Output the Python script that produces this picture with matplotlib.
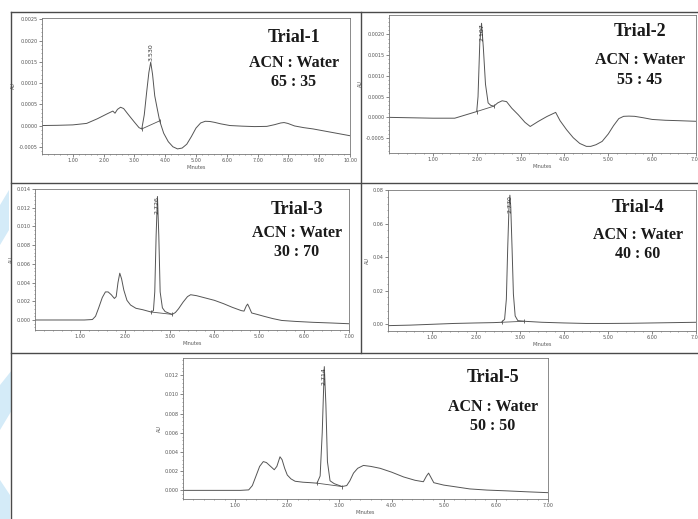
import matplotlib
matplotlib.use("Agg")
import matplotlib.pyplot as plt
from matplotlib.lines import Line2D
from matplotlib.patches import Polygon
from matplotlib.ticker import AutoMinorLocator, FormatStrFormatter

# ---- data (retention time in min, response in AU) ----
t1_x = [0, 0.5, 1.0, 1.45, 1.8, 2.1, 2.3, 2.37, 2.45, 2.55, 2.65, 2.8, 3.0, 3.15, 3.24,
        3.32, 3.40, 3.47, 3.53, 3.59, 3.66, 3.74, 3.82, 3.95, 4.1, 4.25, 4.4, 4.55, 4.7,
        4.85, 5.0, 5.15, 5.3, 5.45, 5.6, 5.8, 6.1, 6.5, 6.9, 7.3, 7.55, 7.75, 7.86, 7.98,
        8.2, 8.5, 8.8, 9.1, 9.4, 9.7, 10.0]
t1_y = [0, 0.05, 0.15, 0.5, 1.6, 2.7, 3.4, 2.9, 3.8, 4.3, 4.0, 2.6, 0.8, -0.5, -0.8,
        2.5, 8.0, 12.5, 14.9, 12.0, 7.0, 4.0, 1.1, -1.8, -3.8, -5.0, -5.5, -5.3, -4.4,
        -2.6, -0.6, 0.6, 1.0, 0.95, 0.75, 0.4, 0.0, -0.15, -0.25, -0.2, 0.2, 0.6, 0.7, 0.5,
        -0.1, -0.5, -0.8, -1.2, -1.6, -2.0, -2.4]
t1_y = [v * 1e-4 for v in t1_y]

t2_x = [0, 0.5, 1.0, 1.5, 1.75, 2.0, 2.03, 2.07, 2.11, 2.15, 2.2, 2.26, 2.32, 2.39, 2.48,
        2.58, 2.68, 2.8, 2.95, 3.1, 3.22, 3.4, 3.6, 3.8, 3.9, 4.05, 4.2, 4.35, 4.5, 4.6,
        4.72, 4.86, 5.0, 5.12, 5.24, 5.35, 5.47, 5.6, 5.8, 6.0, 6.3, 6.6, 7.0]
t2_y = [0, -0.1, -0.2, -0.2, 0.6, 1.4, 5.0, 18.0, 22.7, 17.0, 8.0, 3.5, 2.9, 2.7, 3.5,
        4.0, 3.8, 2.2, 0.6, -1.2, -2.2, -1.0, 0.2, 1.2, -0.8, -3.0, -4.9, -6.3, -7.0, -7.0,
        -6.6, -5.8, -4.0, -2.0, -0.3, 0.25, 0.3, 0.25, -0.1, -0.5, -0.7, -0.8, -0.95]
t2_y = [v * 1e-4 for v in t2_y]

t3_x = [0, 0.6, 1.1, 1.28, 1.35, 1.42, 1.5, 1.57, 1.63, 1.7, 1.77, 1.81, 1.85, 1.89, 1.93,
        1.98, 2.05, 2.13, 2.25, 2.4, 2.59, 2.64, 2.67, 2.70, 2.73, 2.76, 2.79, 2.84, 2.9,
        3.0, 3.06, 3.13, 3.2, 3.3, 3.4, 3.47, 3.6, 3.8, 4.0, 4.2, 4.4, 4.6, 4.66, 4.71,
        4.74, 4.78, 4.83, 4.95, 5.1, 5.3, 5.5, 5.8, 6.2, 6.6, 7.0]
t3_y = [0, 0, 0, 0.05, 0.4, 1.3, 2.4, 3.0, 3.0, 2.7, 2.3, 2.5, 4.0, 5.0, 4.4,
        3.2, 2.1, 1.6, 1.25, 1.1, 0.85, 1.0, 3.0, 9.0, 13.2, 9.0, 3.0, 1.3, 0.9,
        0.7, 0.6, 0.8, 1.2, 1.9, 2.5, 2.7, 2.6, 2.35, 2.1, 1.75, 1.35, 1.0, 0.95, 1.5,
        1.7, 1.3, 0.75, 0.6, 0.4, 0.15, -0.05, -0.15, -0.25, -0.32, -0.4]
t3_y = [v * 1e-3 for v in t3_y]

t4_x = [0, 0.5, 1.0, 1.5, 2.0, 2.4, 2.58, 2.65, 2.69, 2.72, 2.75, 2.77, 2.79, 2.82, 2.85,
        2.89, 2.95, 3.1, 3.5, 4.0, 4.5, 5.0, 5.5, 6.0, 6.5, 7.0]
t4_y = [-0.08, -0.05, 0.0, 0.05, 0.08, 0.1, 0.12, 0.3, 1.5, 4.5, 7.0, 7.7, 7.0, 4.5, 1.8,
        0.5, 0.22, 0.18, 0.12, 0.08, 0.05, 0.05, 0.06, 0.08, 0.1, 0.12]
t4_y = [v * 1e-2 for v in t4_y]

t5_x = [0, 0.6, 1.1, 1.26, 1.33, 1.4, 1.47, 1.54, 1.6, 1.68, 1.75, 1.8, 1.86, 1.9, 1.95,
        2.0, 2.07, 2.15, 2.3, 2.45, 2.57, 2.63, 2.67, 2.71, 2.74, 2.77, 2.82, 2.9, 3.0,
        3.05, 3.14, 3.2, 3.27, 3.35, 3.46, 3.6, 3.78, 4.0, 4.23, 4.45, 4.61, 4.67, 4.71,
        4.75, 4.81, 5.0, 5.19, 5.5, 5.83, 6.2, 6.6, 7.0]
t5_y = [0, 0, 0, 0.05, 0.5, 1.5, 2.5, 3.0, 2.9, 2.5, 2.15, 2.5, 3.5, 3.2, 2.3,
        1.6, 1.2, 0.95, 0.85, 0.8, 0.75, 1.5, 6.0, 12.9, 9.0, 3.0, 1.0, 0.7, 0.5,
        0.4, 0.5, 1.0, 1.8, 2.3, 2.6, 2.5, 2.3, 1.9, 1.4, 1.05, 0.9, 1.5, 1.8,
        1.4, 0.8, 0.55, 0.4, 0.15, 0.03, -0.05, -0.15, -0.24]
t5_y = [v * 1e-3 for v in t5_y]

# integration baseline end points (index into each trace)
base_idx = [(14, 22), (5, 13), (20, 30), (6, 17), (20, 29)]
peak_labels = ["3.530", "2.107", "2.726", "2.770", "2.714"]
titles = ["Trial-1", "Trial-2", "Trial-3", "Trial-4", "Trial-5"]
ratios = ["65 : 35", "55 : 45", "30 : 70", "40 : 60", "50 : 50"]

traces = [(t1_x, t1_y), (t2_x, t2_y), (t3_x, t3_y), (t4_x, t4_y), (t5_x, t5_y)]
x_max = [10, 7, 7, 7, 7]
y_lims = [(-0.00067, 0.00253), (-0.00086, 0.00247), (-0.00107, 0.014),
          (-0.004, 0.0801), (-0.0009, 0.0138)]
y_ticks = [[-0.0005, 0, 0.0005, 0.0010, 0.0015, 0.0020, 0.0025],
           [-0.0005, 0, 0.0005, 0.0010, 0.0015, 0.0020],
           [0, 0.002, 0.004, 0.006, 0.008, 0.010, 0.012, 0.014],
           [0, 0.02, 0.04, 0.06, 0.08],
           [0, 0.002, 0.004, 0.006, 0.008, 0.010, 0.012]]
y_fmt = ["%.4f", "%.4f", "%.3f", "%.2f", "%.3f"]

W, H = 698, 519
fig = plt.figure(figsize=(W / 100, H / 100), dpi=100)
fig.patch.set_facecolor("white")


def fx(px):
    return px / W


def fy(py):
    return 1 - py / H


# axes boxes in pixels: left, top, right, bottom
boxes = [(42, 18, 350, 154), (389, 15, 696, 153), (35, 189, 349, 330),
         (388, 190, 696, 331), (183, 358, 548, 499)]
# label block positions (pixel x centre, y of title / ACN line / ratio line)
text_pos = [(294, 37, 63, 82), (640, 32, 60, 80), (297, 210, 233, 252),
            (638, 208, 235, 254), (493, 377, 407, 426)]

line_col = "#555555"
for i, (l, t, r, b) in enumerate(boxes):
    ax = fig.add_axes([fx(l), fy(b), fx(r - l), (b - t) / H])
    xs, ys = traces[i]
    ax.plot(xs, ys, color=line_col, lw=0.7)
    i0, i1 = base_idx[i]
    ax.plot([xs[i0], xs[i1]], [ys[i0], ys[i1]], color=line_col, lw=0.6,
            marker="|", ms=3, mew=0.6)
    pk = ys.index(max(ys))
    if i == 0:
        ax.text(xs[pk], ys[pk] + 0.00003, peak_labels[i], rotation=90, ha="center",
                va="bottom", fontsize=4.5, color="#333333")
    else:
        ax.text(xs[pk], ys[pk], peak_labels[i], rotation=90, ha="center",
                va="top", fontsize=4.5, color="#333333")
    ax.set_xlim(0, x_max[i])
    ax.set_ylim(*y_lims[i])
    ax.set_xticks(list(range(1, x_max[i] + 1)))
    ax.set_yticks(y_ticks[i])
    ax.xaxis.set_major_formatter(FormatStrFormatter("%.2f"))
    ax.yaxis.set_major_formatter(FormatStrFormatter(y_fmt[i]))
    ax.xaxis.set_minor_locator(AutoMinorLocator(5))
    ax.yaxis.set_minor_locator(AutoMinorLocator(5))
    ax.tick_params(which="major", length=2, width=0.5, labelsize=3.5,
                   colors="#555555", pad=1)
    ax.tick_params(which="minor", length=1, width=0.4, colors="#555555")
    for sp in ax.spines.values():
        sp.set_color("#777777")
        sp.set_linewidth(0.6)
    ax.set_xlabel("Minutes", fontsize=3.5, color="#555555", labelpad=1.5)
    ax.set_ylabel("AU", fontsize=3.5, color="#555555", labelpad=2)

    cx, ty, ay, ry = text_pos[i]
    fig.text(fx(cx), fy(ty), titles[i], ha="center", va="center", fontsize=13,
             fontweight="bold", family="Liberation Serif", color="#1a1a1a")
    fig.text(fx(cx), fy(ay), "ACN : Water", ha="center", va="center", fontsize=11.5,
             fontweight="bold", family="Liberation Serif", color="#1a1a1a")
    fig.text(fx(cx), fy(ry), ratios[i], ha="center", va="center", fontsize=11.5,
             fontweight="bold", family="Liberation Serif", color="#1a1a1a")

# panel frame lines
border = dict(color="#4a4a4a", lw=1.0, transform=fig.transFigure)
fig.add_artist(Line2D([fx(11), fx(11)], [fy(12), fy(519)], **border))
fig.add_artist(Line2D([fx(11), fx(698)], [fy(12), fy(12)], **border))
fig.add_artist(Line2D([fx(11), fx(698)], [fy(183), fy(183)], **border))
fig.add_artist(Line2D([fx(11), fx(698)], [fy(353), fy(353)], **border))
fig.add_artist(Line2D([fx(361), fx(361)], [fy(12), fy(353)], **border))

# faint watermark shapes on the left edge
wm = "#d4ebf8"
for pts in [[(0, 205), (9, 190), (9, 230), (0, 245)],
            [(0, 385), (12, 370), (12, 410), (0, 430)],
            [(0, 480), (10, 495), (10, 519), (0, 519)]]:
    fig.add_artist(Polygon([(fx(a), fy(b)) for a, b in pts], closed=True,
                           facecolor=wm, edgecolor="none", transform=fig.transFigure))

fig.savefig("out.png", dpi=100)
